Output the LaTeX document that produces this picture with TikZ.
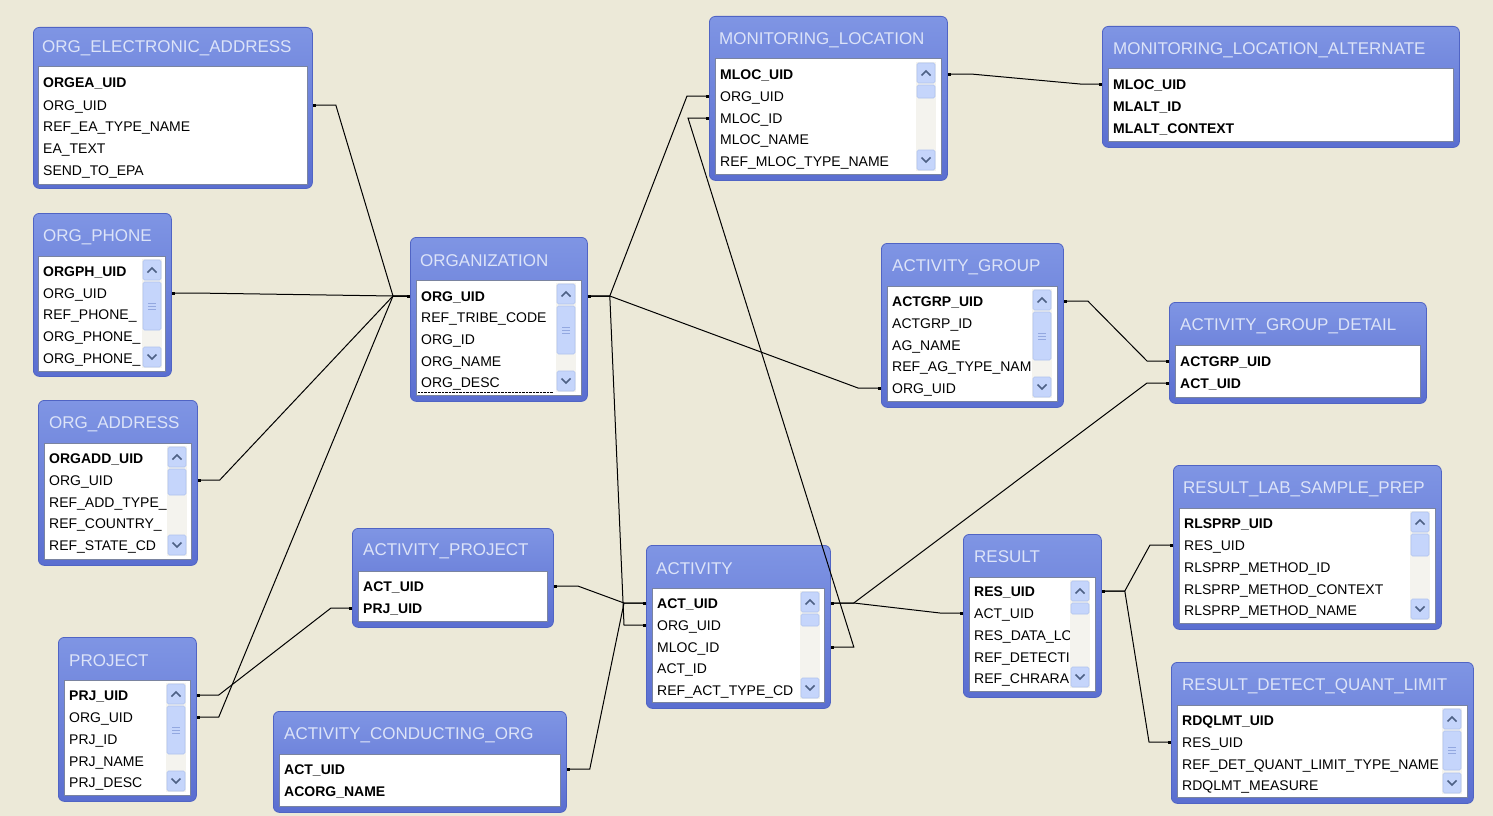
\documentclass[tikz,border=0pt]{standalone}
\usepackage{fontspec}
\setmainfont{Liberation Sans}
\usetikzlibrary{arrows.meta,calc}

\definecolor{deskbg}{HTML}{ECE9D8}
\definecolor{tbltop}{HTML}{7F95E4}
\definecolor{tblbot}{HTML}{5A6ED0}
\definecolor{tbledge}{HTML}{5064C4}
\definecolor{ttltext}{HTML}{DCE3F8}
\definecolor{lstedge}{HTML}{7A84A0}
\definecolor{sbtrack}{HTML}{F4F3EE}
\definecolor{sbbtn}{HTML}{C5D5FB}
\definecolor{sbedge}{HTML}{AFC2EE}
\definecolor{sbarrow}{HTML}{4D6185}
\definecolor{sbgripc}{HTML}{93A8E0}

\newcommand{\vscrollbar}[5]{%
	\fill [sbtrack] (#1,#2) rectangle (#1+20,#3);
	\draw [sbpart] (#1+1,#2+1) rectangle (#1+19,#2+21);
	\draw [sbpart] (#1+1,#3-21) rectangle (#1+19,#3-1);
	\draw [sbpart] (#1+1,#4) rectangle (#1+19,#5);
	\draw [sbchev] (#1+5.5,#2+13.5) -- (#1+10,#2+9) -- (#1+14.5,#2+13.5);
	\draw [sbchev] (#1+5.5,#3-13.5) -- (#1+10,#3-9) -- (#1+14.5,#3-13.5);
}
\newcommand{\vgrip}[2]{%
	\draw [sbgripc, line width=0.7pt] (#1+6,#2-3) -- (#1+14,#2-3) (#1+6,#2) -- (#1+14,#2) (#1+6,#2+3) -- (#1+14,#2+3);
}

\begin{document}
\begin{tikzpicture}[x=1pt, y=-1pt,
		tbl/.style={anchor=north west, rounded corners=6pt, top color=tbltop, bottom color=tblbot, draw=tbledge, line width=0.8pt, inner sep=0pt},
		ttl/.style={anchor=west, text=ttltext, font=\fontsize{17}{19}\selectfont, inner sep=0pt},
		lst/.style={fill=white, draw=lstedge, line width=1pt},
		fld/.style={anchor=west, font=\fontsize{14}{16}\selectfont, inner sep=0pt, text height=11pt, text depth=1pt},
		pkfld/.style={fld, font=\fontsize{14}{16}\selectfont\bfseries},
		relline/.style={draw=black, line width=1pt, {Square[length=3pt,width=3pt]}-{Square[length=3pt,width=3pt]}},
		sbpart/.style={fill=sbbtn, draw=sbedge, line width=0.6pt, rounded corners=1.5pt},
		sbchev/.style={draw=sbarrow, line width=1.6pt}]
	\fill [deskbg] (0,0) rectangle (1493,816);
	\useasboundingbox (0,0) rectangle (1493,816);

	\node [tbl, minimum width=279pt, minimum height=161pt] (ea) at (33,27) {};
	\draw [lst] (38,67) rectangle (307,184);
	\node [ttl] (eattl) at (42,48) {ORG\_ELECTRONIC\_ADDRESS};
	\node [pkfld] (ea1) at (43,83) {ORGEA\_UID};
	\node [fld] (ea2) at (43,105) {ORG\_UID};
	\node [fld] (ea3) at (43,126) {REF\_EA\_TYPE\_NAME};
	\node [fld] (ea4) at (43,148) {EA\_TEXT};
	\node [fld] (ea5) at (43,170) {SEND\_TO\_EPA};

	\node [tbl, minimum width=138pt, minimum height=163pt] (ph) at (33,213) {};
	\draw [lst] (38,256) rectangle (165,371);
	\vscrollbar{142}{259}{368}{282}{330}
	\vgrip{142}{306}
	\node [ttl] (phttl) at (43,237) {ORG\_PHONE};
	\begin{scope}
		\clip (39,257) rectangle (141,370);
		\node [pkfld] (ph1) at (43,271) {ORGPH\_UID};
		\node [fld] (ph2) at (43,293) {ORG\_UID};
		\node [fld] (ph3) at (43,314) {REF\_PHONE\_};
		\node [fld] (ph4) at (43,336) {ORG\_PHONE\_};
		\node [fld] (ph5) at (43,358) {ORG\_PHONE\_};
	\end{scope}

	\node [tbl, minimum width=159pt, minimum height=165pt] (ad) at (38,400) {};
	\draw [lst] (44,443) rectangle (191,559);
	\vscrollbar{167}{446}{556}{469}{495}
	\node [ttl] (adttl) at (49,424) {ORG\_ADDRESS};
	\begin{scope}
		\clip (45,444) rectangle (166,558);
		\node [pkfld] (ad1) at (49,458) {ORGADD\_UID};
		\node [fld] (ad2) at (49,480) {ORG\_UID};
		\node [fld] (ad3) at (49,502) {REF\_ADD\_TYPE\_};
		\node [fld] (ad4) at (49,523) {REF\_COUNTRY\_};
		\node [fld] (ad5) at (49,545) {REF\_STATE\_CD};
	\end{scope}

	\node [tbl, minimum width=177pt, minimum height=164pt] (org) at (410,237) {};
	\draw [lst] (416,280) rectangle (581,395);
	\vscrollbar{556}{283}{392}{306}{354}
	\vgrip{556}{330}
	\node [ttl] (orgttl) at (420,261) {ORGANIZATION};
	\node [pkfld] (org1) at (421,296) {ORG\_UID};
	\node [fld] (org2) at (421,317) {REF\_TRIBE\_CODE};
	\node [fld] (org3) at (421,339) {ORG\_ID};
	\node [fld] (org4) at (421,361) {ORG\_NAME};
	\node [fld] (org5) at (421,382) {ORG\_DESC};
	\draw [densely dotted] (418,392) -- (553,392);

	\node [tbl, minimum width=238pt, minimum height=164pt] (ml) at (709,16) {};
	\draw [lst] (715,59) rectangle (941,174);
	\vscrollbar{916}{62}{171}{85}{98}
	\node [ttl] (mlttl) at (719,40) {MONITORING\_LOCATION};
	\node [pkfld] (ml1) at (720,74) {MLOC\_UID};
	\node [fld] (ml2) at (720,96) {ORG\_UID};
	\node [fld] (ml3) at (720,118) {MLOC\_ID};
	\node [fld] (ml4) at (720,139) {MLOC\_NAME};
	\node [fld] (ml5) at (720,161) {REF\_MLOC\_TYPE\_NAME};

	\node [tbl, minimum width=357pt, minimum height=121pt] (mla) at (1102,26) {};
	\draw [lst] (1108,69) rectangle (1453,141);
	\node [ttl] (mlattl) at (1113,50) {MONITORING\_LOCATION\_ALTERNATE};
	\node [pkfld] (mla1) at (1113,84) {MLOC\_UID};
	\node [pkfld] (mla2) at (1113,106) {MLALT\_ID};
	\node [pkfld] (mla3) at (1113,128) {MLALT\_CONTEXT};

	\node [tbl, minimum width=182pt, minimum height=164pt] (ag) at (881,243) {};
	\draw [lst] (887,286) rectangle (1057,401);
	\vscrollbar{1032}{289}{398}{312}{360}
	\vgrip{1032}{336}
	\node [ttl] (agttl) at (892,267) {ACTIVITY\_GROUP};
	\begin{scope}
		\clip (888,287) rectangle (1031,400);
		\node [pkfld] (ag1) at (892,301) {ACTGRP\_UID};
		\node [fld] (ag2) at (892,323) {ACTGRP\_ID};
		\node [fld] (ag3) at (892,345) {AG\_NAME};
		\node [fld] (ag4) at (892,366) {REF\_AG\_TYPE\_NAM};
		\node [fld] (ag5) at (892,388) {ORG\_UID};
	\end{scope}

	\node [tbl, minimum width=257pt, minimum height=101pt] (agd) at (1169,302) {};
	\draw [lst] (1175,345) rectangle (1420,397);
	\node [ttl] (agdttl) at (1180,326) {ACTIVITY\_GROUP\_DETAIL};
	\node [pkfld] (agd1) at (1180,361) {ACTGRP\_UID};
	\node [pkfld] (agd2) at (1180,383) {ACT\_UID};

	\node [tbl, minimum width=268pt, minimum height=164pt] (rl) at (1173,465) {};
	\draw [lst] (1179,508) rectangle (1435,623);
	\vscrollbar{1410}{511}{620}{534}{556}
	\node [ttl] (rlttl) at (1183,489) {RESULT\_LAB\_SAMPLE\_PREP};
	\node [pkfld] (rl1) at (1184,523) {RLSPRP\_UID};
	\node [fld] (rl2) at (1184,545) {RES\_UID};
	\node [fld] (rl3) at (1184,567) {RLSPRP\_METHOD\_ID};
	\node [fld] (rl4) at (1184,589) {RLSPRP\_METHOD\_CONTEXT};
	\node [fld] (rl5) at (1184,610) {RLSPRP\_METHOD\_NAME};

	\node [tbl, minimum width=302pt, minimum height=141pt] (rq) at (1171,662) {};
	\draw [lst] (1177,705) rectangle (1467,797);
	\vscrollbar{1442}{708}{794}{731}{770}
	\vgrip{1442}{750}
	\node [ttl] (rqttl) at (1182,686) {RESULT\_DETECT\_QUANT\_LIMIT};
	\begin{scope}
		\clip (1178,706) rectangle (1441,796);
		\node [pkfld] (rq1) at (1182,720) {RDQLMT\_UID};
		\node [fld] (rq2) at (1182,742) {RES\_UID};
		\node [fld] (rq3) at (1182,764) {REF\_DET\_QUANT\_LIMIT\_TYPE\_NAME};
		\node [fld] (rq4) at (1182,785) {RDQLMT\_MEASURE};
	\end{scope}

	\node [tbl, minimum width=138pt, minimum height=163pt] (res) at (963,534) {};
	\draw [lst] (969,577) rectangle (1095,691);
	\vscrollbar{1070}{580}{688}{603}{614}
	\node [ttl] (resttl) at (974,557) {RESULT};
	\begin{scope}
		\clip (970,578) rectangle (1069,690);
		\node [pkfld] (res1) at (974,591) {RES\_UID};
		\node [fld] (res2) at (974,613) {ACT\_UID};
		\node [fld] (res3) at (974,635) {RES\_DATA\_LO};
		\node [fld] (res4) at (974,657) {REF\_DETECTI};
		\node [fld] (res5) at (974,678) {REF\_CHRARA};
	\end{scope}

	\node [tbl, minimum width=184pt, minimum height=163pt] (act) at (646,545) {};
	\draw [lst] (652,588) rectangle (824,702);
	\vscrollbar{800}{591}{699}{614}{626}
	\node [ttl] (actttl) at (656,569) {ACTIVITY};
	\node [pkfld] (act1) at (657,603) {ACT\_UID};
	\node [fld] (act2) at (657,625) {ORG\_UID};
	\node [fld] (act3) at (657,647) {MLOC\_ID};
	\node [fld] (act4) at (657,668) {ACT\_ID};
	\node [fld] (act5) at (657,690) {REF\_ACT\_TYPE\_CD};

	\node [tbl, minimum width=201pt, minimum height=99pt] (ap) at (352,528) {};
	\draw [lst] (358,571) rectangle (547,621);
	\node [ttl] (apttl) at (363,551) {ACTIVITY\_PROJECT};
	\node [pkfld] (ap1) at (363,586) {ACT\_UID};
	\node [pkfld] (ap2) at (363,608) {PRJ\_UID};

	\node [tbl, minimum width=293pt, minimum height=101pt] (aco) at (273,711) {};
	\draw [lst] (279,754) rectangle (560,806);
	\node [ttl] (acottl) at (284,735) {ACTIVITY\_CONDUCTING\_ORG};
	\node [pkfld] (aco1) at (284,769) {ACT\_UID};
	\node [pkfld] (aco2) at (284,791) {ACORG\_NAME};

	\node [tbl, minimum width=138pt, minimum height=164pt] (prj) at (58,637) {};
	\draw [lst] (64,680) rectangle (190,795);
	\vscrollbar{166}{683}{792}{706}{754}
	\vgrip{166}{730}
	\node [ttl] (prjttl) at (69,661) {PROJECT};
	\node [pkfld] (prj1) at (69,695) {PRJ\_UID};
	\node [fld] (prj2) at (69,717) {ORG\_UID};
	\node [fld] (prj3) at (69,739) {PRJ\_ID};
	\node [fld] (prj4) at (69,761) {PRJ\_NAME};
	\node [fld] (prj5) at (69,782) {PRJ\_DESC};

	\draw [relline] (ea.east |- ea2) -- ++(23,0) -- ($(org.west |- org1)+(-17,0)$) -- (org.west |- org1);
	\draw [relline] (ph.east |- ph2) -- ++(22,0) -- ($(org.west |- org1)+(-17,0)$) -- (org.west |- org1);
	\draw [relline] (ad.east |- ad2) -- ++(22,0) -- ($(org.west |- org1)+(-17,0)$) -- (org.west |- org1);
	\draw [relline] (prj.east |- prj2) -- ++(22,0) -- ($(org.west |- org1)+(-17,0)$) -- (org.west |- org1);
	\draw [relline] (prj.east |- prj1) -- ++(22,0) -- ($(ap.west |- ap2)+(-21,0)$) -- (ap.west |- ap2);
	\draw [relline] (org.east |- org1) -- ++(22,0) -- ($(ml.west |- ml2)+(-22,0)$) -- (ml.west |- ml2);
	\draw [relline] (org.east |- org1) -- ++(22,0) -- ($(ag.west |- ag5)+(-23,0)$) -- (ag.west |- ag5);
	\draw [relline] (org.east |- org1) -- ++(22,0) -- ($(act.west |- act2)+(-22,0)$) -- (act.west |- act2);
	\draw [relline] (ml.east |- ml1) -- ++(23,0) -- ($(mla.west |- mla1)+(-22,0)$) -- (mla.west |- mla1);
	\draw [relline] (ml.west |- ml3) -- ++(-21,0) -- ($(act.east |- act3)+(23,0)$) -- (act.east |- act3);
	\draw [relline] (ap.east |- ap1) -- ++(24,0) -- ($(act.west |- act1)+(-22,0)$) -- (act.west |- act1);
	\draw [relline] (aco.east |- aco1) -- ++(23,0) -- ($(act.west |- act1)+(-22,0)$) -- (act.west |- act1);
	\draw [relline] (act.east |- act1) -- ++(23,0) -- ($(agd.west |- agd2)+(-22,0)$) -- (agd.west |- agd2);
	\draw [relline] (act.east |- act1) -- ++(23,0) -- ($(res.west |- res2)+(-23,0)$) -- (res.west |- res2);
	\draw [relline] (ag.east |- ag1) -- ++(24,0) -- ($(agd.west |- agd1)+(-22,0)$) -- (agd.west |- agd1);
	\draw [relline] (res.east |- res1) -- ++(23,0) -- ($(rl.west |- rl2)+(-23,0)$) -- (rl.west |- rl2);
	\draw [relline] (res.east |- res1) -- ++(23,0) -- ($(rq.west |- rq2)+(-22,0)$) -- (rq.west |- rq2);
\end{tikzpicture}
\end{document}
